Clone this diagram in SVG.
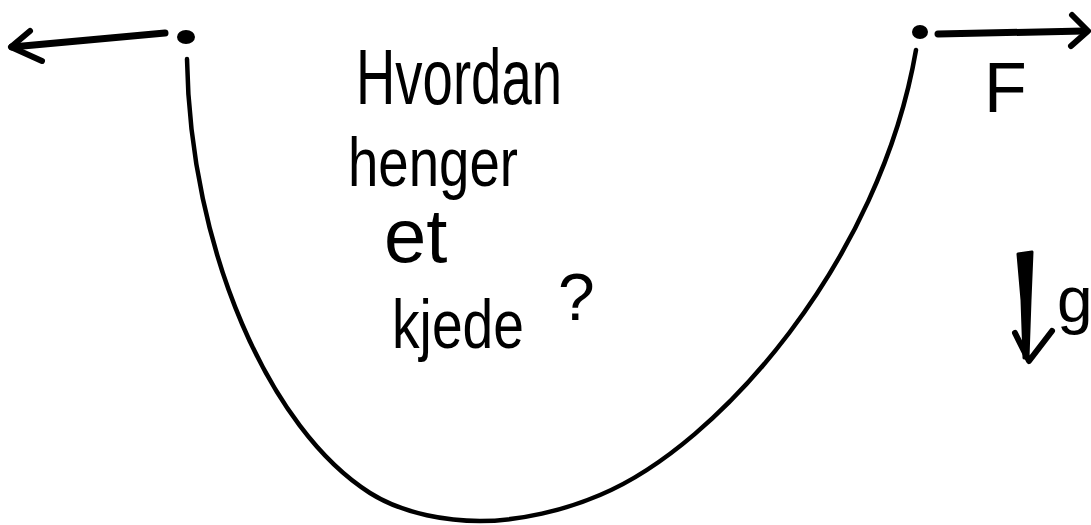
<svg xmlns="http://www.w3.org/2000/svg" width="1091" height="525" viewBox="0 0 1091 525">
<style>
.ink{fill:none;stroke:#000;stroke-linecap:round;stroke-linejoin:round}
.hand{font-family:"Liberation Sans","DejaVu Sans",sans-serif;fill:#000}
</style>
<rect width="1091" height="525" fill="#fff"/>
<g id="chain">
<path class="ink" stroke-width="4.5" d="M187,59 C190,250 270,430 370,493 C405,515 450,521 480,521 C520,521 565,510 600,495 C720,445 880,260 916,50"/>
</g>
<g id="left-anchor"><ellipse cx="186" cy="37" rx="9" ry="7"/></g>
<g id="right-anchor"><ellipse cx="920" cy="32" rx="8" ry="7"/></g>
<g id="connectors">
<path class="ink" stroke-width="7" d="M165,33 L12,47"/>
<path class="ink" stroke-width="6" d="M30,31 L11,47 L42,61"/>
<path class="ink" stroke-width="7" d="M938,34 L1084,31"/>
<path class="ink" stroke-width="6" d="M1072,15 L1088,31 L1071,46"/>
<path d="M1018,254 L1032,252 L1030,300 L1028,358 L1024,358 L1022,300 Z" fill="#000" stroke="#000" stroke-width="3" stroke-linejoin="round"/>
<path class="ink" stroke-width="6" d="M1015,333 L1029,361 L1052,331"/>
</g>
<g id="question">
<text class="hand" x="356" y="104" font-size="78" textLength="206" lengthAdjust="spacingAndGlyphs">Hvordan</text>
<text class="hand" x="348" y="186" font-size="68" textLength="170" lengthAdjust="spacingAndGlyphs">henger</text>
<text class="hand" x="384" y="262" font-size="76">et</text>
<text class="hand" x="392" y="348" font-size="68" textLength="132" lengthAdjust="spacingAndGlyphs">kjede</text>
<text class="hand" x="558" y="320" font-size="66">?</text>
</g>
<g id="label-F"><text class="hand" x="984" y="112" font-size="70">F</text></g>
<g id="label-g"><text class="hand" x="1057" y="322" font-size="64">g</text></g>
</svg>
